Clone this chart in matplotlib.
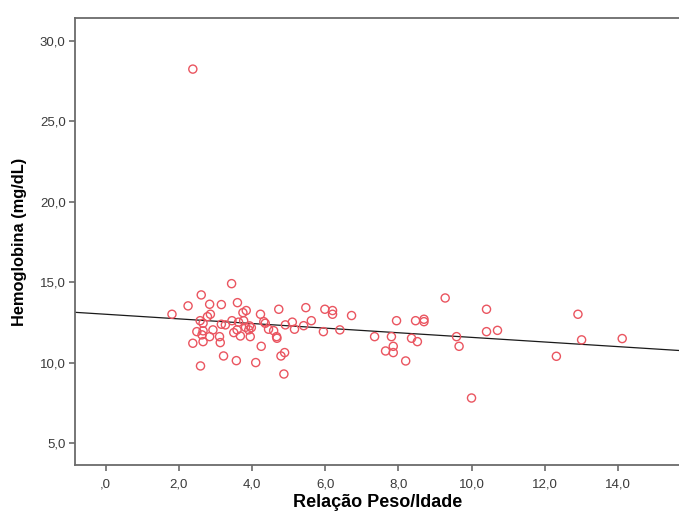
import numpy as np
import matplotlib.pyplot as plt
from matplotlib.ticker import FuncFormatter

# Relação Peso/Idade vs Hemoglobina (mg/dL)
peso_idade = [2.38, 1.81, 2.25, 2.61, 3.44, 2.84, 3.16, 3.60, 2.86, 2.78,
              2.58, 2.66, 3.75, 3.84, 4.23, 4.73, 5.47, 5.99, 6.20, 6.20,
              6.72, 2.49, 2.66, 2.93, 3.16, 3.27, 3.45, 3.63, 3.77, 3.59,
              3.82, 3.93, 3.98, 3.91, 4.32, 4.36, 4.45, 4.59, 4.67, 4.68,
              4.91, 5.10, 5.16, 5.41, 5.62, 5.95, 6.40, 2.63, 2.66, 2.38,
              2.84, 3.11, 3.13, 3.50, 3.68, 3.95, 4.25, 4.89, 4.79, 3.22,
              3.57, 4.10, 2.59, 4.87, 7.35, 7.81, 7.95, 8.47, 8.70, 8.70,
              8.36, 8.52, 7.86, 7.65, 7.86, 8.20, 9.28, 9.59, 9.66, 10.00,
              10.41, 10.41, 10.71, 12.91, 13.01, 12.32, 14.12]
hemoglobina = [28.23, 13.01, 13.53, 14.21, 14.91, 13.63, 13.61, 13.73, 13.01, 12.86,
               12.61, 12.45, 13.11, 13.24, 13.01, 13.32, 13.42, 13.32, 13.24, 13.01,
               12.93, 11.93, 11.98, 12.04, 12.39, 12.35, 12.61, 12.52, 12.61, 12.04,
               12.20, 12.29, 12.18, 12.04, 12.55, 12.45, 12.08, 11.99, 11.62, 11.52,
               12.35, 12.52, 12.08, 12.30, 12.61, 11.93, 12.04, 11.73, 11.31, 11.21,
               11.62, 11.62, 11.25, 11.87, 11.66, 11.62, 11.02, 10.63, 10.42, 10.42,
               10.13, 10.01, 9.80, 9.30, 11.62, 11.62, 12.61, 12.61, 12.70, 12.55,
               11.52, 11.31, 11.02, 10.73, 10.63, 10.11, 14.02, 11.62, 11.02, 7.81,
               13.32, 11.93, 12.01, 13.01, 11.42, 10.40, 11.50]

x_ticks = [0, 2, 4, 6, 8, 10, 12, 14]
y_ticks = [5, 10, 15, 20, 25, 30]

plt.rcParams['font.family'] = ['Liberation Sans', 'DejaVu Sans']

fig = plt.figure(figsize=(6.79, 5.11), dpi=100)
ax = fig.add_axes([0.110, 0.090, 0.892, 0.875])

x = np.array(peso_idade)
y = np.array(hemoglobina)
ax.scatter(x, y, s=34, facecolors='none', edgecolors='#ea5560', linewidths=1.0, zorder=3)

# linear fit line across the whole axis
b, a = np.polyfit(x, y, 1)
xmin, xmax = -0.85, 15.71
xl = np.array([xmin, xmax])
ax.plot(xl, a + b * xl, color='#1a1a1a', lw=0.9, zorder=2)

ax.set_xlim(xmin, xmax)
ax.set_ylim(3.65, 31.41)
ax.set_xticks(x_ticks)
ax.set_yticks(y_ticks)


def comma(v, pos):
    s = f"{v:.1f}".replace('.', ',')
    if s.startswith('0,'):
        s = s[1:]
    return s


ax.xaxis.set_major_formatter(FuncFormatter(comma))
ax.yaxis.set_major_formatter(FuncFormatter(comma))

for side in ['left', 'bottom', 'top']:
    ax.spines[side].set_color('#6b6b6b')
    ax.spines[side].set_linewidth(1.3)
ax.spines['right'].set_visible(False)
ax.tick_params(direction='out', length=4.5, width=1.2, color='#6b6b6b',
               labelsize=9.5, labelcolor='#3a3a3a')
ax.tick_params(axis='x', pad=5)
ax.tick_params(axis='y', pad=2)

ax.set_xlabel('Relação Peso/Idade', fontsize=13, fontweight='bold', labelpad=3)
ax.set_ylabel('Hemoglobina (mg/dL)', fontsize=11.8, fontweight='bold', labelpad=9)

fig.savefig('out.png', dpi=100)
